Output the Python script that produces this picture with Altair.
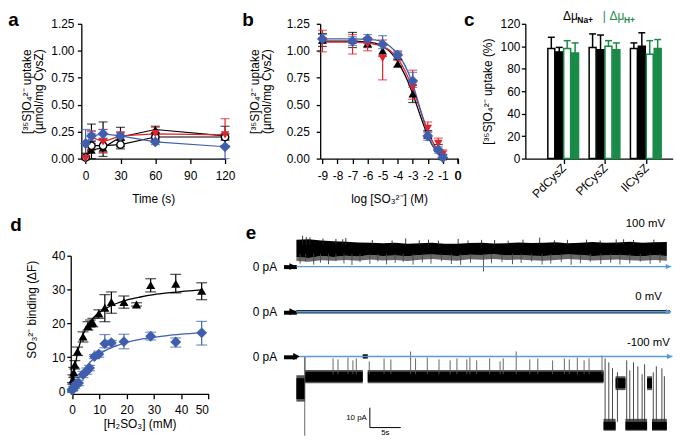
import altair as alt
import pandas as pd

FONT = "Liberation Sans"
BLUE = "#3f5fae"
RED = "#e2232b"
GREEN = "#1a8a48"
LBLUE = "#5b9bd5"

UPTAKE = ["[³⁵S]O₄²⁻ uptake", "(µmol/mg CysZ)"]

# ---------------- panel a : time course
A_TIME = [0, 5, 15, 30, 60, 120]
A_TRI = [0.02, 0.08, 0.10, 0.20, 0.27, 0.21]
A_TRI_LO = [0.00, 0.00, 0.02, 0.11, 0.24, 0.12]
A_TRI_HI = [0.05, 0.32, 0.34, 0.29, 0.30, 0.30]
A_CIRC = [0.01, 0.12, 0.12, 0.13, 0.20, 0.20]
A_CIRC_LO = [0.00, 0.08, 0.06, 0.09, 0.17, 0.17]
A_CIRC_HI = [0.03, 0.16, 0.18, 0.17, 0.23, 0.23]
A_RED = [0.00, 0.20, 0.155, 0.21, 0.23, 0.22]
A_RED_LO = [0.00, 0.14, 0.05, 0.17, 0.20, 0.12]
A_RED_HI = [0.02, 0.26, 0.27, 0.25, 0.29, 0.37]
A_BLUE = [0.14, 0.21, 0.23, 0.21, 0.155, 0.11]
A_BLUE_LO = [0.01, 0.17, 0.19, 0.18, 0.13, 0.00]
A_BLUE_HI = [0.27, 0.25, 0.27, 0.24, 0.18, 0.20]

# ---------------- panel b : inhibition by sulfite
B_LOG = [-9, -7, -6, -5, -4, -3, -2, -1.3, -1]
B_TICKS = [-9, -8, -7, -6, -5, -4, -3, -2, -1, 0]
B_TRI = [1.10, 1.10, 1.07, 1.00, 0.88, 0.60, 0.22, 0.10, 0.02]
B_TRI_LO = [1.04, 1.03, 1.03, 0.95, 0.85, 0.52, 0.19, 0.07, 0.00]
B_TRI_HI = [1.16, 1.17, 1.11, 1.05, 0.92, 0.68, 0.26, 0.13, 0.04]
B_RED = [1.09, 1.08, 1.06, 0.93, 0.95, 0.66, 0.28, 0.14, 0.04]
B_RED_LO = [0.99, 0.97, 1.00, 0.73, 0.91, 0.55, 0.24, 0.09, 0.00]
B_RED_HI = [1.19, 1.15, 1.12, 1.10, 0.99, 0.82, 0.34, 0.19, 0.08]
B_BLUE = [1.11, 1.09, 1.11, 1.06, 0.96, 0.72, 0.21, 0.08, 0.01]
B_BLUE_LO = [1.07, 1.05, 1.07, 1.02, 0.93, 0.66, 0.17, 0.05, 0.00]
B_BLUE_HI = [1.15, 1.13, 1.15, 1.14, 1.00, 0.80, 0.25, 0.11, 0.03]
B_FIT_X = [-9, -8, -7, -6, -5.5, -5, -4.5, -4, -3.5, -3, -2.5, -2, -1.5, -1]
B_FIT_TRI = [1.09, 1.09, 1.09, 1.08, 1.07, 1.04, 0.99, 0.90, 0.77, 0.60, 0.40, 0.21, 0.08, 0.01]
B_FIT_RED = [1.08, 1.08, 1.08, 1.07, 1.06, 1.04, 1.00, 0.93, 0.81, 0.65, 0.45, 0.26, 0.11, 0.03]
B_FIT_BLUE = [1.11, 1.11, 1.11, 1.105, 1.10, 1.08, 1.04, 0.97, 0.86, 0.69, 0.46, 0.23, 0.08, 0.01]

# ---------------- panel c : energisation
C_GROUPS = ["PdCysZ", "PfCysZ", "IlCysZ"]
C_KINDS = ["Na open", "Na filled", "H open", "H filled"]
C_FILL = ["white", "black", "white", GREEN]
C_EDGE = ["black", "black", GREEN, GREEN]
C_VAL = [[98, 95, 98, 94], [99, 97, 100, 97], [98, 100, 93, 98]]
C_HI = [[108, 99, 105, 103], [111, 110, 105, 103], [103, 112, 105, 106]]

# ---------------- panel d : sulfite binding
D_TRI_X = [0.1, 0.3, 0.6, 1.0, 2.0, 4.0, 5.8, 6.7, 7.6, 9.8, 12.0, 14.4, 19.0, 23.6, 28.8, 38.0, 47.5]
D_TRI = [1.5, 3.4, 5.5, 7.8, 11.7, 16.1, 19.2, 20.0, 20.2, 22.9, 24.6, 26.3, 26.3, 25.6, 31.3, 31.7, 29.6]
D_TRI_LO = [0.5, 2.0, 4.0, 6.5, 10.5, 14.5, 18.0, 19.0, 19.0, 21.5, 20.5, 23.0, 24.5, 25.1, 29.3, 29.0, 27.0]
D_TRI_HI = [2.5, 4.8, 7.0, 9.0, 13.0, 17.5, 20.5, 21.0, 21.5, 24.0, 28.5, 29.3, 28.1, 26.1, 33.2, 34.5, 32.0]
D_BLUE_X = [0.1, 0.4, 1.0, 1.5, 2.4, 4.0, 5.4, 6.4, 8.2, 9.8, 12.0, 14.4, 19.0, 28.8, 38.0, 47.5]
D_BLUE = [0.3, 0.8, 1.5, 2.2, 2.4, 4.9, 5.9, 6.8, 10.2, 10.9, 14.0, 14.3, 14.6, 16.2, 14.5, 17.2]
D_BLUE_LO = [0.0, 0.2, 0.8, 1.5, 1.6, 4.0, 5.0, 6.0, 9.6, 10.0, 12.8, 13.6, 12.5, 15.1, 13.0, 13.6]
D_BLUE_HI = [0.6, 1.4, 2.2, 2.9, 3.2, 5.8, 6.8, 7.6, 10.8, 11.8, 16.7, 15.0, 16.8, 17.4, 15.7, 20.6]
D_FIT_X = [0, 1, 2, 3, 4, 6, 8, 10, 13, 16, 20, 25, 30, 35, 40, 47.5]
D_FIT_TRI = [0, 6.8, 11.3, 14.4, 16.7, 19.8, 21.8, 23.2, 24.7, 25.8, 26.9, 27.8, 28.5, 29.0, 29.4, 29.9]
D_FIT_BLUE = [0, 1.8, 3.4, 4.8, 6.0, 8.0, 9.6, 10.9, 12.3, 13.3, 14.4, 15.3, 15.9, 16.4, 16.8, 17.3]

# ---------------- panel e : single channel recordings (pA vs s)
E_TRACES = ["100 mV", "0 mV", "-100 mV"]
E_OFF = [45.3, 22.5, 0.0]          # vertical stacking of the three traces (pA)
T1_T = [0, 2, 4, 6, 8, 10, 12, 14, 16, 18, 20, 22, 24, 26, 28, 30, 32, 34, 36, 38, 40, 42, 44, 46, 48, 50, 52, 54, 56, 58, 60]
T1_HI = [13.5, 13.8, 13.2, 12.8, 12.6, 12.2, 12.0, 11.8, 12.0, 11.6, 11.8, 12.0, 11.5, 11.6, 11.9, 12.1,
         11.7, 11.8, 12.2, 11.9, 12.0, 12.3, 11.8, 12.1, 12.4, 12.0, 12.2, 12.5, 12.1, 12.3, 12.4]
T1_LO = [4.8, 4.4, 5.3, 4.9, 5.5, 5.1, 5.8, 5.3, 5.6, 5.2, 5.9, 6.1, 5.7, 5.4, 6.0, 5.8,
         6.2, 5.6, 5.9, 5.5, 5.3, 5.7, 6.1, 5.8, 5.4, 5.6, 5.9, 5.5, 5.2, 5.7, 5.3]
T1_FR = [2.8, 2.4, 3.2, 2.9, 3.4, 3.0, 3.6, 3.1, 3.3, 2.8, 3.5, 3.8, 3.4, 3.0, 3.7, 3.5,
         3.9, 3.3, 3.6, 3.2, 3.0, 3.4, 3.8, 3.5, 3.1, 3.3, 3.6, 3.2, 2.9, 3.4, 3.0]
T1_SPK_T = [0.6, 1.5, 2.8, 3.9, 5.2, 6.4, 7.7, 9.0, 10.3, 11.9, 13.2, 14.6, 16.0, 17.3, 18.9, 20.4, 21.8,
            23.5, 25.1, 26.6, 28.2, 30.3, 31.6, 33.3, 35.0, 36.4, 38.1, 39.8, 41.2, 42.9, 44.5, 46.0,
            47.6, 49.3, 50.9, 52.4, 54.0, 55.7, 57.3, 58.9]
T1_SPK_LO = [1.5, 2.5, 1.0, 2.0, 1.2, 2.8, 1.6, 0.8, 2.2, 1.4, 2.6, 1.1, 1.9, 2.4, 1.0, 2.1, 1.5,
             2.7, 1.3, 0.9, 2.0, -2.5, 1.7, 2.3, 1.2, 1.8, 2.6, 1.0, 1.5, 2.2, 0.9, 1.7,
             2.4, 1.3, 2.0, 1.1, 1.6, 2.5, 1.4, 1.9]
T1_UP_T = [1.0, 1.6, 2.2, 4.3, 6.4, 7.5, 8.0, 12.3, 15.5, 17.7, 19.9, 21.4, 23.0, 26.2, 27.8, 30.0,
           32.1, 34.3, 36.7, 39.4, 41.8, 43.9, 47.0, 49.2, 51.8, 53.0, 54.6, 57.9]
T1_UP_HI = [15.5, 14.9, 14.8, 14.2, 14.0, 13.8, 14.5, 13.4, 13.2, 14.2, 13.3, 13.6, 13.1, 14.0, 13.2, 13.5,
            13.4, 13.1, 13.6, 14.6, 13.3, 13.5, 13.6, 13.2, 13.7, 13.8, 13.4, 13.6]
T2_T = [0, 60.5]
T2_LO = [-0.9, -0.9]
T2_HI = [0.9, 0.9]
T3_T0 = [0.0, 1.4, 10.75, 11.55, 49.75, 51.7, 53.3, 56.8, 57.6]
T3_T1 = [1.4, 10.75, 11.55, 49.75, 51.7, 53.3, 56.8, 57.6, 60.0]
T3_CORE_LO = [-21.5, -12.8, -1.0, -12.8, -37.0, -16.0, -37.0, -16.0, -37.0]
T3_CORE_HI = [-11.0, -7.8, 1.0, -7.8, -33.0, -11.0, -33.0, -11.0, -33.0]
T3_FR_LO = [-22.8, -13.6, -1.0, -13.6, -37.5, -17.0, -37.5, -17.0, -37.5]
T3_FR_HI = [-9.5, -6.8, 1.0, -6.8, -31.5, -10.0, -31.5, -10.0, -31.5]
T3_SPK_T = [1.39, 5.94, 6.74, 8.35, 9.15, 9.7, 11.8, 14.2, 15.3, 18.5, 19.3, 21.2, 23.1, 24.9, 26.0, 27.6,
            28.1, 29.2, 31.3, 33.0, 33.5, 35.6, 37.8, 39.1, 41.5, 43.4, 44.2, 45.5, 46.6, 47.4, 49.5]
T3_SPK_HI = [0.0, -1.0, -1.5, -0.5, -2.0, -1.0, -2.5, -1.0, -1.5, 2.5, -1.0, -0.5, -1.5, -2.0, -1.0, -1.5,
             -0.5, -2.0, -1.0, -2.5, -1.0, 2.5, -1.5, -1.0, -2.0, -1.0, -1.5, -0.5, -2.0, -1.0, 0.5]
T3_BST_T = [50.0, 50.6, 51.2, 52.0, 53.5, 54.0, 54.6, 55.3, 56.0, 56.4, 57.8, 58.3, 59.2, 59.6]
T3_BST_HI = [-1.0, -3.0, -6.0, -8.0, -2.0, -7.0, -3.0, -5.0, -9.0, -4.0, -8.0, -5.0, -6.0, -10.0]
T3_LONG_T = [1.35]
T3_LONG_LO = [-40.0]
T3_LONG_HI = [0.0]
BASE_T0 = [0.0, 0.0, 0.6]
BASE_T1 = [60.7, 60.7, 60.9]
LAB_T = [59.7, 59.2, 60.5]
LAB_DY = [21.35, 7.65, 6.65]
SB_T = [11.9, 16.9]       # 5 s
SB_PA = [-35.9, -25.9]    # 10 pA


def letter(ch, px, py):
    return alt.Chart(pd.DataFrame({"t": [ch]})).mark_text(
        font=FONT, fontSize=19, fontWeight="bold", align="left", baseline="top", color="black"
    ).encode(x=alt.value(px), y=alt.value(py), text="t:N")


def series_df(x, v, lo, hi):
    return pd.DataFrame({"x": x, "v": v, "lo": lo, "hi": hi})


def err_layers(df, X, Y, color, cap):
    return [
        alt.Chart(df).mark_rule(color=color, strokeWidth=1.2).encode(x=X("x"), y=Y("lo"), y2=alt.Y2("hi:Q")),
        alt.Chart(df).mark_tick(orient="horizontal", size=cap, thickness=1.2, color=color).encode(x=X("x"), y=Y("lo")),
        alt.Chart(df).mark_tick(orient="horizontal", size=cap, thickness=1.2, color=color).encode(x=X("x"), y=Y("hi")),
    ]


def pt_layer(df, X, Y, color, shape, size, filled=True):
    if filled:
        m = alt.Chart(df).mark_point(shape=shape, filled=True, color=color, size=size, opacity=1, strokeWidth=0)
    else:
        m = alt.Chart(df).mark_point(shape=shape, filled=False, fill="white", stroke=color,
                                     strokeWidth=1.4, size=size, opacity=1)
    return m.encode(x=X("x"), y=Y("v"))


# ---------------- panel a
def XA(f):
    return alt.X(f + ":Q", scale=alt.Scale(domain=[-3.7, 120], range=[0, 145], nice=False, zero=False),
                 axis=alt.Axis(values=[0, 30, 60, 90, 120], title="Time (s)", tickSize=5,
                               labelPadding=7.5, titlePadding=12, labelFlush=False, labelOverlap=False))


def YA(f):
    return alt.Y(f + ":Q", scale=alt.Scale(domain=[0, 1.25], nice=False, zero=False),
                 axis=alt.Axis(values=[0, 0.25, 0.5, 0.75, 1.0, 1.25], format=".2f", title=UPTAKE,
                               tickSize=4, labelPadding=3.5, titlePadding=5, titleLineHeight=12))


a_sets = [
    (series_df(A_TIME, A_TRI, A_TRI_LO, A_TRI_HI), "black", "triangle-up", 75, True),
    (series_df(A_TIME, A_CIRC, A_CIRC_LO, A_CIRC_HI), "black", "circle", 55, False),
    (series_df(A_TIME, A_RED, A_RED_LO, A_RED_HI), RED, "triangle-down", 75, True),
    (series_df(A_TIME, A_BLUE, A_BLUE_LO, A_BLUE_HI), BLUE, "diamond", 120, True),
]
a_layers = []
for df, col, shp, sz, fl in a_sets:
    a_layers.append(alt.Chart(df).mark_line(color=col, strokeWidth=1.2).encode(x=XA("x"), y=YA("v")))
for df, col, shp, sz, fl in a_sets:
    a_layers += err_layers(df, XA, YA, col, 9)
for df, col, shp, sz, fl in a_sets:
    a_layers.append(pt_layer(df, XA, YA, col, shp, sz, fl))
a_layers.append(letter("a", -73.7, -12.7))
panel_a = alt.layer(*a_layers).properties(width=161.3, height=136)


# ---------------- panel b
def XB(f):
    return alt.X(f + ":Q", scale=alt.Scale(domain=[-9.15, 0.005], range=[0, 139], nice=False, zero=False),
                 axis=alt.Axis(values=B_TICKS, title="log [SO₃²⁻] (M)",
                               labelExpr="replace(datum.label, '−', '-')",
                               labelOverlap=False, labelFlush=False, labelBound=False,
                               tickSize=5, labelPadding=7.5, titlePadding=12))


def YB(f):
    return alt.Y(f + ":Q", scale=alt.Scale(domain=[0, 1.25], nice=False, zero=False),
                 axis=alt.Axis(values=[0, 0.25, 0.5, 0.75, 1.0, 1.25], format=".2f", title=UPTAKE,
                               tickSize=4, labelPadding=7, titlePadding=13, titleLineHeight=12))


b_sets = [
    (series_df(B_LOG, B_TRI, B_TRI_LO, B_TRI_HI), B_FIT_TRI, "black", "triangle-up", 75),
    (series_df(B_LOG, B_RED, B_RED_LO, B_RED_HI), B_FIT_RED, RED, "triangle-down", 75),
    (series_df(B_LOG, B_BLUE, B_BLUE_LO, B_BLUE_HI), B_FIT_BLUE, BLUE, "diamond", 120),
]
b_layers = []
for df, fit, col, shp, sz in b_sets:
    fdf = pd.DataFrame({"x": B_FIT_X, "v": fit})
    b_layers.append(alt.Chart(fdf).mark_line(color=col, strokeWidth=1.3, interpolate="monotone")
                    .encode(x=XB("x"), y=YB("v")))
for df, fit, col, shp, sz in b_sets:
    b_layers += err_layers(df, XB, YB, col, 9)
for df, fit, col, shp, sz in b_sets:
    b_layers.append(pt_layer(df, XB, YB, col, shp, sz))
# the end-of-axis tick "0" (drawn explicitly so it is never dropped at the range edge)
b_end = pd.DataFrame({"x": [B_TICKS[-1]], "t": [str(B_TICKS[-1])]})
b_layers.append(alt.Chart(b_end).mark_rule(color="black", strokeWidth=1.3)
                .encode(x=XB("x"), y=alt.value(136), y2=alt.value(141)))
b_layers.append(alt.Chart(b_end).mark_text(font=FONT, fontSize=12, align="center", baseline="top", color="black")
                .encode(x=XB("x"), y=alt.value(148.5), text="t:N"))
b_layers.append(letter("b", -78.7, -12.7))
panel_b = alt.layer(*b_layers).properties(width=144.3, height=136)

# ---------------- panel c
c_rows = []
for gi, g in enumerate(C_GROUPS):
    for k, kind in enumerate(C_KINDS):
        c_rows.append({"g": gi + 1, "k": k, "kind": kind, "v": C_VAL[gi][k], "hi": C_HI[gi][k]})
c_df = pd.DataFrame(c_rows)
label_expr = "[" + ",".join("'%s'" % g for g in C_GROUPS) + "][datum.value - 1]"
XC_SCALE = alt.Scale(domain=[0.071, 3.64], nice=False, zero=False)
XC_AXIS = alt.Axis(values=[1, 2, 3], labelExpr=label_expr, labelAngle=315, labelAlign="right",
                   labelBaseline="middle", tickSize=5, labelPadding=2, title=None)
YC_SCALE = alt.Scale(domain=[0, 120], nice=False, zero=False)
YC_AXIS = alt.Axis(values=[0, 20, 40, 60, 80, 100, 120], title="[³⁵S]O₄²⁻ uptake (%)",
                   tickSize=4, labelPadding=1.5, titlePadding=6)


def XC(f):
    return alt.X(f + ":Q", scale=XC_SCALE, axis=XC_AXIS)


def YC(f):
    return alt.Y(f + ":Q", scale=YC_SCALE, axis=YC_AXIS)


c_base = alt.Chart(c_df).transform_calculate(
    x0="datum.g - 0.384 + 0.192 * datum.k",
    x1="datum.g - 0.384 + 0.192 * datum.k + 0.168",
    xc="datum.g - 0.384 + 0.192 * datum.k + 0.084",
    zero="0",
)
fill_enc = alt.Fill("kind:N", scale=alt.Scale(domain=C_KINDS, range=C_FILL), legend=None)
edge_enc = alt.Stroke("kind:N", scale=alt.Scale(domain=C_KINDS, range=C_EDGE), legend=None)
c_bars = c_base.mark_rect(strokeWidth=1.5).encode(
    x=XC("x0"), x2="x1:Q", y=YC("v"), y2="zero:Q", fill=fill_enc, stroke=edge_enc)
c_err = c_base.mark_rule(strokeWidth=1.5).encode(x=XC("xc"), y=YC("v"), y2="hi:Q", stroke=edge_enc)
c_cap = c_base.mark_rule(strokeWidth=1.5).encode(x=XC("x0"), x2="x1:Q", y=YC("hi"), stroke=edge_enc)


def ctext(txt, px, py, size, color, weight="normal"):
    return alt.Chart(pd.DataFrame({"t": [txt]})).mark_text(
        font=FONT, fontSize=size, fontWeight=weight, align="left", baseline="top", color=color
    ).encode(x=alt.value(px), y=alt.value(py), text="t:N")


panel_c = alt.layer(
    c_bars, c_err, c_cap,
    ctext("Δμ", 38, -12.7, 12, "black"),
    ctext("Na+", 52.5, -8, 8.5, "black", "bold"),
    ctext("|", 78, -12.7, 12, GREEN),
    ctext("Δμ", 85, -12.7, 12, GREEN),
    ctext("H+", 99.5, -8, 8.5, GREEN, "bold"),
    letter("c", -62, -12.7),
).properties(width=148.7, height=136)


# ---------------- panel d  (plot origin shares the column of panel a; axis shifted by offset)
def XD(f):
    return alt.X(f + ":Q", scale=alt.Scale(domain=[-0.5, 50], range=[-10.7, 128.3], nice=False, zero=False),
                 axis=alt.Axis(values=[0, 10, 20, 30, 40, 50], title="[H₂SO₃] (mM)", tickSize=5,
                               labelPadding=6.4, titlePadding=3))


def YD(f):
    return alt.Y(f + ":Q", scale=alt.Scale(domain=[-0.8, 40], nice=False, zero=False),
                 axis=alt.Axis(values=[0, 10, 20, 30, 40], title="SO₃²⁻ binding (ΔF)", tickSize=4,
                               labelPadding=2, titlePadding=13, titleY=54, offset=10.7))


d_sets = [
    (series_df(D_TRI_X, D_TRI, D_TRI_LO, D_TRI_HI), D_FIT_TRI, "black", "triangle-up", 85),
    (series_df(D_BLUE_X, D_BLUE, D_BLUE_LO, D_BLUE_HI), D_FIT_BLUE, BLUE, "diamond", 120),
]
d_layers = []
for df, fit, col, shp, sz in d_sets:
    fdf = pd.DataFrame({"x": D_FIT_X, "v": fit})
    d_layers.append(alt.Chart(fdf).mark_line(color=col, strokeWidth=1.3, interpolate="monotone")
                    .encode(x=XD("x"), y=YD("v")))
for df, fit, col, shp, sz in d_sets:
    d_layers += err_layers(df, XD, YD, col, 11)
for df, fit, col, shp, sz in d_sets:
    d_layers.append(pt_layer(df, XD, YD, col, shp, sz))
d_layers.append(letter("d", -71.7, -39.7))
panel_d = alt.layer(*d_layers).properties(width=165.3, height=139.3)

# ---------------- panel e
XE_SCALE = alt.Scale(domain=[0, 61], nice=False, zero=False)
YE_SCALE = alt.Scale(domain=[-41.35, 50.8], nice=False, zero=False)
YE_AXIS = alt.Axis(values=E_OFF, labelExpr="'0 pA'", tickSize=13, tickWidth=4, tickColor="black",
                   domain=False, labelPadding=7, title=None, grid=False)


def XE(f):
    return alt.X(f + ":Q", scale=XE_SCALE, axis=None)


def YE(f):
    return alt.Y(f + ":Q", scale=YE_SCALE, axis=YE_AXIS)


o1, o2, o3 = E_OFF
t1 = pd.DataFrame({"t": T1_T, "hi": [v + o1 for v in T1_HI], "lo": [v + o1 for v in T1_LO],
                   "fr": [v + o1 for v in T1_FR]})
t1s = pd.DataFrame({"t": T1_SPK_T, "lo": [v + o1 for v in T1_SPK_LO], "hi": [6.5 + o1] * len(T1_SPK_T)})
t1u = pd.DataFrame({"t": T1_UP_T, "lo": [11.0 + o1] * len(T1_UP_T), "hi": [v + o1 for v in T1_UP_HI]})
t2 = pd.DataFrame({"t": T2_T, "lo": [v + o2 for v in T2_LO], "hi": [v + o2 for v in T2_HI]})
t3 = pd.DataFrame({"t0": T3_T0, "t1": T3_T1, "clo": T3_CORE_LO, "chi": T3_CORE_HI,
                   "flo": T3_FR_LO, "fhi": T3_FR_HI})
t3s = pd.DataFrame({"t": T3_SPK_T, "lo": [-9.0] * len(T3_SPK_T), "hi": T3_SPK_HI})
t3b = pd.DataFrame({"t": T3_BST_T, "lo": [-33.0] * len(T3_BST_T), "hi": T3_BST_HI})
t3l = pd.DataFrame({"t": T3_LONG_T, "lo": T3_LONG_LO, "hi": T3_LONG_HI})
base = pd.DataFrame({"t0": BASE_T0, "t1": BASE_T1, "y": E_OFF})
labs = pd.DataFrame({"t": LAB_T, "y": [o + d for o, d in zip(E_OFF, LAB_DY)], "txt": E_TRACES})
sb_h = pd.DataFrame({"t0": [SB_T[0]], "t1": [SB_T[1]], "y": [SB_PA[0]]})
sb_v = pd.DataFrame({"t": [SB_T[0]], "y0": [SB_PA[0]], "y1": [SB_PA[1]]})
sb_txt = pd.DataFrame({"t": [SB_T[0], (SB_T[0] + SB_T[1]) / 2],
                       "y": [(SB_PA[0] + SB_PA[1]) / 2, SB_PA[0] - 2.8], "txt": ["10 pA", "5s"]})

e_layers = [
    alt.Chart(t1).mark_area(color="#6a6a6a").encode(x=XE("t"), y=YE("fr"), y2="lo:Q"),
    alt.Chart(t1).mark_area(color="black").encode(x=XE("t"), y=YE("lo"), y2="hi:Q"),
    alt.Chart(t1s).mark_rule(color="#444444", strokeWidth=0.9).encode(x=XE("t"), y=YE("lo"), y2="hi:Q"),
    alt.Chart(t1u).mark_rule(color="#222222", strokeWidth=0.9).encode(x=XE("t"), y=YE("lo"), y2="hi:Q"),
    alt.Chart(t2).mark_area(color="#1f2d47").encode(x=XE("t"), y=YE("lo"), y2="hi:Q"),
    alt.Chart(t3).mark_rect(color="#555555").encode(x=XE("t0"), x2="t1:Q", y=YE("flo"), y2="fhi:Q"),
    alt.Chart(t3).mark_rect(color="black").encode(x=XE("t0"), x2="t1:Q", y=YE("clo"), y2="chi:Q"),
    alt.Chart(t3s).mark_rule(color="#555555", strokeWidth=0.9).encode(x=XE("t"), y=YE("lo"), y2="hi:Q"),
    alt.Chart(t3b).mark_rule(color="#333333", strokeWidth=0.9).encode(x=XE("t"), y=YE("lo"), y2="hi:Q"),
    alt.Chart(t3l).mark_rule(color="#555555", strokeWidth=0.9).encode(x=XE("t"), y=YE("lo"), y2="hi:Q"),
    alt.Chart(base).mark_rule(color=LBLUE, strokeWidth=1.5).encode(x=XE("t0"), x2="t1:Q", y=YE("y")),
    alt.Chart(base).mark_point(shape="M-2,-1L0,0L-2,1Z", filled=True, color=LBLUE, size=30, opacity=1)
    .encode(x=XE("t1"), y=YE("y")),
    alt.Chart(base).mark_point(shape="M-2,-1L0,0L-2,1Z", filled=True, color="black", size=49, opacity=1)
    .encode(x=XE("t0"), y=YE("y")),
    alt.Chart(labs).mark_text(font=FONT, fontSize=11.5, align="right", baseline="middle", color="black")
    .encode(x=XE("t"), y=YE("y"), text="txt:N"),
    alt.Chart(sb_h).mark_rule(color="black", strokeWidth=1).encode(x=XE("t0"), x2="t1:Q", y=YE("y")),
    alt.Chart(sb_v).mark_rule(color="black", strokeWidth=1).encode(x=XE("t"), y=YE("y0"), y2="y1:Q"),
    alt.Chart(sb_txt).mark_text(font=FONT, fontSize=8, align="right", baseline="middle", color="black", dx=-3)
    .transform_filter("datum.txt == '10 pA'").encode(x=XE("t"), y=YE("y"), text="txt:N"),
    alt.Chart(sb_txt).mark_text(font=FONT, fontSize=8, align="center", baseline="middle", color="black")
    .transform_filter("datum.txt == '5s'").encode(x=XE("t"), y=YE("y"), text="txt:N"),
    letter("e", -51, -31.7),
]
panel_e = alt.layer(*e_layers).properties(width=380, height=184.3)

top = alt.hconcat(panel_a, panel_b, panel_c, spacing=0)
bottom = alt.hconcat(panel_d, panel_e, spacing=0)
chart = alt.vconcat(top, bottom, spacing=11).properties(padding=0).configure_view(stroke=None).configure_axis(
    labelFont=FONT, titleFont=FONT, labelFontSize=12, titleFontSize=12, labelColor="black",
    titleColor="black", domainColor="black", tickColor="black", domainWidth=1.3, tickWidth=1.3,
    titleFontWeight="normal", grid=False
)

chart.save("out.html", embed_options={"renderer": "svg", "actions": False})
